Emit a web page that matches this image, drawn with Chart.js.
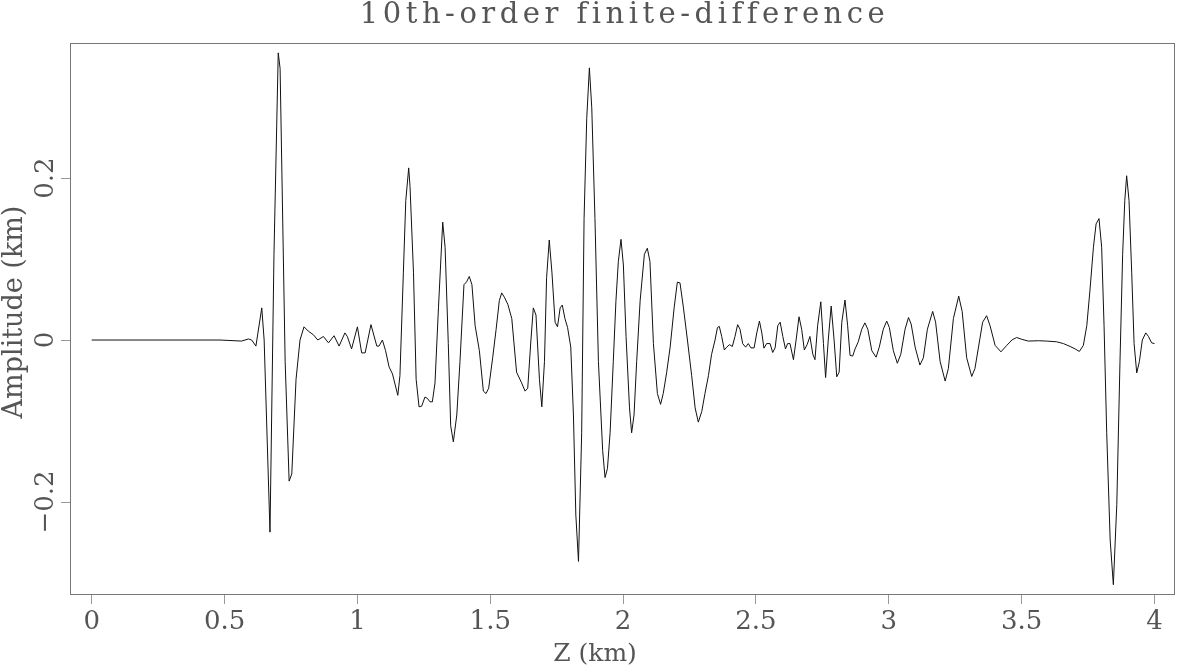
<!DOCTYPE html>
<html>
<head>
<meta charset="utf-8">
<title>10th-order finite-difference</title>
<script src="https://cdn.jsdelivr.net/npm/chart.js"></script>
<style>
    html, body { margin: 0; padding: 0; background: #fff; }
    #wrap { width: 1177px; height: 667px; position: relative; }
</style>
</head>
<body>
<div id="wrap"><canvas id="traceChart"></canvas></div>
<script>
// Trace samples: depth (km) and amplitude
const zKm = [
    0, 0.483, 0.564, 0.590, 0.602, 0.618, 0.640, 0.649, 0.671, 0.686,
    0.702, 0.709, 0.728, 0.743, 0.753, 0.769, 0.784, 0.799, 0.815, 0.834,
    0.851, 0.872, 0.891, 0.912, 0.931, 0.953, 0.962, 0.978, 1.000, 1.016,
    1.029, 1.051, 1.073, 1.081, 1.094, 1.106, 1.119, 1.132, 1.152, 1.160,
    1.173, 1.182, 1.193, 1.198, 1.211, 1.221, 1.232, 1.242, 1.254, 1.263,
    1.273, 1.282, 1.292, 1.305, 1.321, 1.330, 1.342, 1.351, 1.361, 1.374,
    1.386, 1.401, 1.411, 1.421, 1.431, 1.443, 1.459, 1.474, 1.484, 1.494,
    1.509, 1.522, 1.534, 1.543, 1.553, 1.566, 1.581, 1.599, 1.618, 1.631,
    1.641, 1.653, 1.662, 1.672, 1.685, 1.694, 1.704, 1.712, 1.722, 1.732,
    1.744, 1.753, 1.763, 1.771, 1.781, 1.791, 1.803, 1.813, 1.822, 1.832,
    1.844, 1.853, 1.863, 1.873, 1.882, 1.894, 1.907, 1.923, 1.932, 1.941,
    1.951, 1.963, 1.973, 1.982, 1.992, 2.001, 2.011, 2.024, 2.032, 2.041,
    2.051, 2.064, 2.080, 2.091, 2.101, 2.114, 2.129, 2.141, 2.151, 2.164,
    2.177, 2.192, 2.204, 2.214, 2.227, 2.242, 2.258, 2.271, 2.283, 2.296,
    2.308, 2.321, 2.333, 2.346, 2.355, 2.362, 2.371, 2.381, 2.390, 2.400,
    2.411, 2.421, 2.431, 2.440, 2.450, 2.461, 2.471, 2.481, 2.493, 2.503,
    2.513, 2.522, 2.530, 2.540, 2.553, 2.563, 2.572, 2.582, 2.591, 2.601,
    2.611, 2.619, 2.628, 2.641, 2.651, 2.662, 2.672, 2.682, 2.693, 2.703,
    2.714, 2.722, 2.732, 2.744, 2.754, 2.762, 2.772, 2.783, 2.794, 2.804,
    2.813, 2.823, 2.835, 2.845, 2.854, 2.864, 2.873, 2.885, 2.898, 2.910,
    2.921, 2.936, 2.952, 2.964, 2.979, 2.992, 3.002, 3.017, 3.032, 3.045,
    3.061, 3.074, 3.084, 3.099, 3.117, 3.130, 3.145, 3.165, 3.176, 3.193,
    3.212, 3.224, 3.243, 3.263, 3.276, 3.293, 3.312, 3.324, 3.343, 3.353,
    3.368, 3.381, 3.400, 3.422, 3.444, 3.463, 3.481, 3.500, 3.525, 3.563,
    3.594, 3.632, 3.657, 3.682, 3.701, 3.717, 3.732, 3.745, 3.757, 3.770,
    3.780, 3.791, 3.801, 3.810, 3.820, 3.833, 3.845, 3.858, 3.870, 3.880,
    3.888, 3.895, 3.904, 3.914, 3.923, 3.933, 3.943, 3.954, 3.967, 3.977,
    3.989, 4.000
];
const amplitude = [
    0, 0, -0.0013, 0.0013, 0, -0.0075, 0.0397, 0, -0.2372, 0.1058,
    0.3545, 0.3351, -0.0265, -0.1742, -0.1653, -0.0485, 0, 0.0163, 0.0110, 0.0066,
    0, 0.0044, -0.0035, 0.0053, -0.0075, 0.0088, 0.0044, -0.0110, 0.0163, -0.0159,
    -0.0159, 0.0190, -0.0075, -0.0075, 0, -0.0132, -0.0331, -0.0419, -0.0683, -0.0441,
    0.0838, 0.1720, 0.2125, 0.1896, 0.0838, -0.0485, -0.0825, -0.0816, -0.0705, -0.0719,
    -0.0763, -0.0763, -0.0529, 0.0397, 0.1455, 0.1146, -0.0044, -0.1058, -0.1257, -0.0926,
    -0.0265, 0.0683, 0.0719, 0.0785, 0.0683, 0.0176, -0.0132, -0.0631, -0.0661, -0.0595,
    -0.0220, 0.0132, 0.0485, 0.0582, 0.0529, 0.0441, 0.0265, -0.0397, -0.0529, -0.0631,
    -0.0595, 0, 0.0397, 0.0309, -0.0485, -0.0825, -0.0265, 0.0772, 0.1235, 0.0838,
    0.0220, 0.0163, 0.0397, 0.0432, 0.0265, 0.0154, -0.0088, -0.0926, -0.2160, -0.2734,
    -0.1146, 0.1499, 0.2734, 0.3360, 0.2866, 0.1499, -0.0265, -0.1367, -0.1698, -0.1587,
    -0.1146, -0.0265, 0.0485, 0.0970, 0.1243, 0.0926, 0.0044, -0.0838, -0.1146, -0.0926,
    -0.0265, 0.0485, 0.1058, 0.1133, 0.0970, -0.0044, -0.0661, -0.0794, -0.0661, -0.0397,
    -0.0088, 0.0397, 0.0714, 0.0705, 0.0397, 0, -0.0441, -0.0838, -0.1014, -0.0882,
    -0.0661, -0.0441, -0.0176, 0, 0.0154, 0.0168, 0.0044, -0.0123, -0.0088, -0.0057,
    -0.0079, 0.0044, 0.0190, 0.0132, -0.0044, -0.0088, -0.0044, -0.0097, -0.0097, 0.0088,
    0.0234, 0.0088, -0.0101, -0.0044, -0.0044, -0.0154, -0.0097, 0.0176, 0.0220, 0.0044,
    -0.0110, -0.0044, -0.0044, -0.0243, 0, 0.0287, 0.0132, -0.0123, -0.0053, 0.0044,
    -0.0176, -0.0243, 0.0176, 0.0472, -0.0044, -0.0463, 0, 0.0419, 0, -0.0454,
    -0.0397, 0.0220, 0.0494, 0.0176, -0.0190, -0.0198, -0.0110, -0.0022, 0.0132, 0.0212,
    0.0132, -0.0132, -0.0212, -0.0088, 0.0132, 0.0234, 0.0154, -0.0132, -0.0287, -0.0176,
    0.0132, 0.0278, 0.0198, -0.0088, -0.0309, -0.0220, 0.0132, 0.0353, 0.0220, -0.0265,
    -0.0507, -0.0353, 0.0265, 0.0542, 0.0353, -0.0220, -0.0450, -0.0353, 0.0022, 0.0220,
    0.0300, 0.0176, -0.0066, -0.0146, -0.0066, 0, 0.0031, 0.0009, -0.0013, -0.0009,
    -0.0013, -0.0022, -0.0044, -0.0079, -0.0110, -0.0141, -0.0066, 0.0176, 0.0617, 0.1146,
    0.1433, 0.1499, 0.1146, 0.0176, -0.1146, -0.2469, -0.3021, -0.2028, -0.0265, 0.1058,
    0.1720, 0.2028, 0.1720, 0.0838, -0.0044, -0.0406, -0.0265, 0, 0.0088, 0.0044,
    -0.0035, -0.0044
];
const xTicks = [0, 0.5, 1, 1.5, 2, 2.5, 3, 3.5, 4];
const yTicks = [-0.2, 0, 0.2];

const chartTitle = '10th-order finite-difference';
const xTitle = 'Z (km)';
const yTitle = 'Amplitude (km)';

const textColor = '#555';
const frameColor = '#777';
const fontFamily = '"DejaVu Serif", "Liberation Serif", serif';

function fmtTick(v) {
    const s = String(Math.abs(v));
    return v < 0 ? '\u2212' + s : s;
}

// Frame on all four sides, title, rotated y labels and axis titles
const frameAndLabels = {
    id: 'frameAndLabels',
    afterDraw(chart) {
        const { ctx, chartArea, scales } = chart;
        ctx.save();
        ctx.strokeStyle = frameColor;
        ctx.lineWidth = 1;
        ctx.strokeRect(chartArea.left + 0.5, chartArea.top + 0.5,
            chartArea.right - chartArea.left - 1, chartArea.bottom - chartArea.top - 1);

        ctx.fillStyle = textColor;
        ctx.textAlign = 'center';
        ctx.textBaseline = 'middle';

        // title, spread out like the wide plotter font
        ctx.font = '29px ' + fontFamily;
        ctx.letterSpacing = '4.5px';
        ctx.fillText(chartTitle, (chartArea.left + chartArea.right) / 2 + 2, 15);
        ctx.letterSpacing = '0px';

        ctx.font = '26px ' + fontFamily;
        yTicks.forEach(v => {
            const py = scales.y.getPixelForValue(v);
            ctx.save();
            ctx.translate(46, py);
            ctx.rotate(-Math.PI / 2);
            ctx.fillText(fmtTick(v), 0, 0);
            ctx.restore();
        });

        ctx.font = '27px ' + fontFamily;
        ctx.save();
        ctx.translate(15, 312);
        ctx.rotate(-Math.PI / 2);
        ctx.fillText(yTitle, 0, 0);
        ctx.restore();

        ctx.font = '25px ' + fontFamily;
        ctx.fillText(xTitle, 595, 654);
        ctx.restore();
    }
};

const ctx = document.getElementById('traceChart').getContext('2d');
const traceChart = new Chart(ctx, {
    type: 'line',
    data: {
        labels: zKm,
        datasets: [{
            data: zKm.map((z, i) => ({ x: z, y: amplitude[i] })),
            borderColor: '#111',
            borderWidth: 1,
            pointRadius: 0,
            tension: 0,
            fill: false
        }]
    },
    options: {
        responsive: true,
        maintainAspectRatio: false,
        animation: false,
        layout: { padding: { top: 43, right: 2, bottom: 0, left: 0 } },
        plugins: {
            legend: { display: false },
            tooltip: { enabled: false },
            title: { display: false }
        },
        scales: {
            x: {
                type: 'linear',
                min: -0.0817,
                max: 4.077,
                afterBuildTicks: scale => { scale.ticks = xTicks.map(v => ({ value: v })); },
                afterFit: scale => { scale.height = 72; },
                border: { display: false },
                grid: { drawOnChartArea: false, drawTicks: true, tickLength: 9, color: '#999' },
                ticks: {
                    color: textColor,
                    font: { family: fontFamily, size: 26 },
                    padding: 3,
                    maxRotation: 0,
                    callback: v => fmtTick(v)
                }
            },
            y: {
                type: 'linear',
                min: -0.3148,
                max: 0.3667,
                afterBuildTicks: scale => { scale.ticks = yTicks.map(v => ({ value: v })); },
                afterFit: scale => { scale.width = 70; },
                border: { display: false },
                grid: { drawOnChartArea: false, drawTicks: true, tickLength: 9, color: '#999' },
                ticks: { display: false }
            }
        }
    },
    plugins: [frameAndLabels]
});
</script>
</body>
</html>
